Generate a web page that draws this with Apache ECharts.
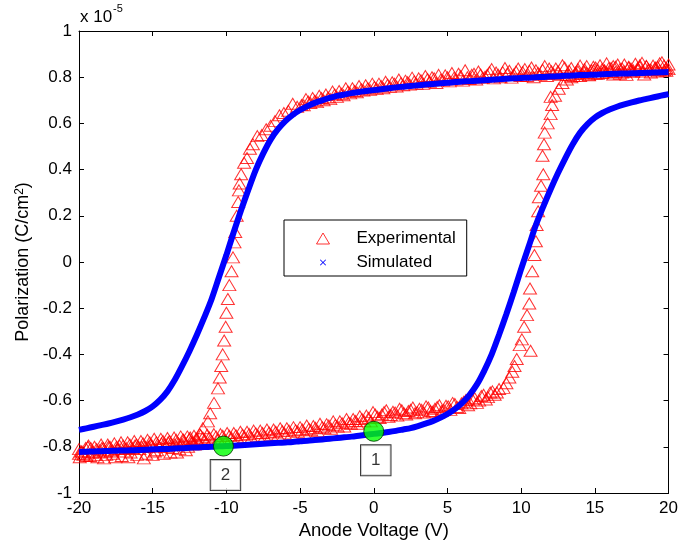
<!DOCTYPE html>
<html>
<head>
<meta charset="utf-8">
<script src="https://cdn.jsdelivr.net/npm/echarts@6/dist/echarts.min.js"></script>
<style>html,body{margin:0;padding:0;background:#fff;}#c{width:681px;height:548px;}</style>
</head>
<body>
<div id="c"></div>
<script>
// ---- data ----
const xTicks = [-20, -15, -10, -5, 0, 5, 10, 15, 20];
const yTicks = [-1, -0.8, -0.6, -0.4, -0.2, 0, 0.2, 0.4, 0.6, 0.8, 1];

// Simulated curve, upper branch (sweep from +20 V down to -20 V)
const simUpperX = [20,19.5,19,18.5,18,17.5,17,16.5,16,15.5,15,14.5,14,13.5,13,12.5,12,11.5,11,10.5,10,9.5,9,8.5,8,7.5,7,6.5,6,5.5,5,4.5,4,3.5,3,2.5,2,1.5,1,0.5,0,
  -0.5,-1,-1.5,-2,-2.5,-3,-3.5,-4,-4.5,-5,-5.5,-6,-6.5,-7,-7.5,-8,-8.5,-9,-9.5,-10,-10.5,-11,-11.5,-12,-12.5,-13,-13.5,-14,-14.5,-15,-15.5,-16,-16.5,-17,-17.5,-18,-18.5,-19,-19.5,-20];
const simUpperY = [0.822,0.821,0.820,0.819,0.818,0.817,0.816,0.815,0.814,0.813,0.811,0.810,0.809,0.807,0.806,0.804,0.803,0.801,0.800,0.798,0.797,0.795,0.793,0.791,0.789,0.787,0.785,0.783,0.781,0.779,0.776,0.774,0.771,0.768,0.765,0.762,0.759,0.756,0.752,0.748,0.744,
  0.740,0.736,0.731,0.725,0.719,0.710,0.700,0.689,0.675,0.658,0.637,0.610,0.575,0.530,0.470,0.400,0.315,0.225,0.130,0.030,-0.065,-0.160,-0.240,-0.315,-0.385,-0.450,-0.510,-0.560,-0.597,-0.625,-0.645,-0.660,-0.672,-0.682,-0.691,-0.699,-0.706,-0.713,-0.720,-0.727];
// Simulated curve, lower branch (sweep from -20 V up to +20 V)
const simLowerX = [-20,-19.5,-19,-18.5,-18,-17.5,-17,-16.5,-16,-15.5,-15,-14.5,-14,-13.5,-13,-12.5,-12,-11.5,-11,-10.5,-10,-9.5,-9,-8.5,-8,-7.5,-7,-6.5,-6,-5.5,-5,-4.5,-4,-3.5,-3,-2.5,-2,-1.5,-1,-0.5,0,
  0.5,1,1.5,2,2.5,3,3.5,4,4.5,5,5.5,6,6.5,7,7.5,8,8.5,9,9.5,10,10.5,11,11.5,12,12.5,13,13.5,14,14.5,15,15.5,16,16.5,17,17.5,18,18.5,19,19.5,20];
const simLowerY = [-0.822,-0.821,-0.820,-0.819,-0.818,-0.817,-0.816,-0.815,-0.814,-0.813,-0.811,-0.810,-0.809,-0.807,-0.806,-0.804,-0.803,-0.801,-0.800,-0.798,-0.797,-0.795,-0.793,-0.791,-0.789,-0.787,-0.785,-0.783,-0.781,-0.779,-0.776,-0.774,-0.771,-0.768,-0.765,-0.762,-0.759,-0.756,-0.752,-0.748,-0.744,
  -0.740,-0.736,-0.731,-0.725,-0.719,-0.710,-0.700,-0.689,-0.675,-0.658,-0.637,-0.610,-0.575,-0.530,-0.470,-0.400,-0.315,-0.225,-0.130,-0.030,0.065,0.160,0.240,0.315,0.385,0.450,0.510,0.560,0.597,0.625,0.645,0.660,0.672,0.682,0.691,0.699,0.706,0.713,0.720,0.727];

// Experimental points, upper branch [V, P]
const expUpper = [
[20.0,0.855],[19.7,0.83],[19.4,0.86],[19.1,0.838],[18.8,0.82],[18.5,0.848],[18.2,0.862],[17.9,0.832],[17.6,0.822],[17.3,0.842],
[17.0,0.855],[16.7,0.815],[16.4,0.845],[16.1,0.825],[15.8,0.86],[15.5,0.818],[15.2,0.832],[14.9,0.845],[14.6,0.808],[14.3,0.835],
[14.0,0.85],[13.7,0.82],[13.4,0.84],[13.1,0.81],[12.8,0.852],[12.5,0.826],[12.2,0.814],[11.9,0.838],[11.6,0.848],[11.3,0.81],
[11.0,0.83],[10.7,0.842],[10.4,0.805],[10.1,0.822],[9.8,0.838],[9.5,0.812],[9.2,0.828],[8.9,0.84],[8.6,0.8],[8.3,0.82],
[8.0,0.835],[7.7,0.81],[7.4,0.797],[7.1,0.825],[6.8,0.815],[6.5,0.792],[6.2,0.83],[5.9,0.805],[5.6,0.79],[5.3,0.818],
[5.0,0.8],[4.7,0.785],[4.4,0.81],[4.1,0.795],[3.8,0.78],[3.5,0.805],[3.2,0.787],[2.9,0.772],[2.6,0.798],[2.3,0.778],
[2.0,0.765],[1.7,0.79],[1.4,0.772],[1.1,0.758],[0.8,0.78],[0.5,0.762],[0.2,0.75],[-0.1,0.772],[-0.4,0.752],[-0.7,0.742],
[-1.0,0.762],[-1.3,0.74],[-1.6,0.73],[-1.9,0.752],[-2.2,0.728],[-2.5,0.715],[-2.8,0.738],[-3.1,0.712],[-3.4,0.7],[-3.7,0.72],
[-4.0,0.698],[-4.3,0.688],[-4.6,0.705],[-4.9,0.68],[-5.2,0.672],[-5.5,0.685],[-5.8,0.655],[-6.1,0.645],[-6.4,0.635],[-6.7,0.61],
[-7.0,0.59],[-7.3,0.575],[-7.6,0.55],[-7.9,0.545],[-8.2,0.51],[-8.4,0.49],[-8.6,0.45],[-8.8,0.43],[-9.0,0.38],[-9.1,0.34],
[-9.15,0.31],[-9.2,0.26],[-9.3,0.2],[-9.4,0.13],[-9.45,0.085],[-9.55,0.02],[-9.65,-0.04],[-9.8,-0.1],[-9.9,-0.16],[-10.0,-0.22],
[-10.05,-0.28],[-10.15,-0.34],[-10.25,-0.4],[-10.35,-0.45],[-10.45,-0.5],[-10.57,-0.547],[-10.84,-0.61],[-11.1,-0.655],[-11.25,-0.69],[-11.6,-0.72],
[-11.8,-0.745],[-12.0,-0.765],[-12.3,-0.78],[-12.6,-0.8],[-12.9,-0.77],[-13.2,-0.81],[-13.5,-0.79],[-13.8,-0.825],[-14.1,-0.8],[-14.4,-0.785],
[-14.7,-0.815],[-15.0,-0.835],[-15.3,-0.8],[-15.6,-0.85],[-15.9,-0.81],[-16.2,-0.795],[-16.5,-0.825],[-16.8,-0.805],[-17.1,-0.84],[-17.4,-0.81],
[-17.7,-0.83],[-18.0,-0.8],[-18.3,-0.85],[-18.6,-0.815],[-18.9,-0.835],[-19.2,-0.805],[-19.5,-0.84],[-19.8,-0.82],[-20.0,-0.83]
];
// Additional experimental readings in the dense flat parts of the upper branch
const expUpperB = [
[19.85,0.84],[19.55,0.865],[19.25,0.825],[18.95,0.85],[18.65,0.835],[18.35,0.812],[18.05,0.845],[17.75,0.858],[17.45,0.828],[17.15,0.81],
[16.85,0.838],[16.55,0.855],[16.25,0.812],[15.95,0.84],[15.65,0.828],[15.35,0.852],[15.05,0.815],[14.75,0.83],[14.45,0.848],[14.15,0.815],
[13.85,0.835],[13.55,0.805],[13.25,0.828],[12.95,0.842],[12.65,0.81],[12.35,0.838],[12.05,0.826],[11.75,0.805],[11.45,0.832],[11.15,0.818],
[10.85,0.8],[10.55,0.828],[10.25,0.835],[9.95,0.805],[9.65,0.825],[9.35,0.798],[9.05,0.815],[8.75,0.822],[8.45,0.81],[8.15,0.795],
[7.85,0.822],[7.55,0.802],[7.25,0.812],[6.95,0.79],[6.65,0.81],[6.35,0.8],[6.05,0.785],[5.75,0.815],[5.45,0.798],[5.15,0.782],
[4.85,0.808],[4.55,0.79],[4.25,0.775],[3.95,0.8],[3.65,0.792],[3.35,0.772],[3.05,0.795],[2.75,0.782],[2.45,0.768],[2.15,0.785],
[1.85,0.775],[1.55,0.76],[1.25,0.778],[0.95,0.768],[0.65,0.752],[0.35,0.772],[0.05,0.758],[-0.25,0.745],[-0.55,0.765],[-0.85,0.748],
[-1.15,0.735],[-1.45,0.752],[-1.75,0.738],[-2.05,0.722],[-2.35,0.74],[-2.65,0.725],[-2.95,0.705],[-3.25,0.725],[-3.55,0.71],[-3.85,0.692],
[-4.15,0.71],[-4.45,0.695],[-4.75,0.678],
[-12.15,-0.79],[-12.45,-0.76],[-12.75,-0.815],[-13.05,-0.79],[-13.35,-0.825],[-13.65,-0.805],[-13.95,-0.78],[-14.25,-0.83],[-14.55,-0.8],[-14.85,-0.82],
[-15.15,-0.79],[-15.45,-0.83],[-15.75,-0.8],[-16.05,-0.835],[-16.35,-0.81],[-16.65,-0.845],[-16.95,-0.82],[-17.25,-0.795],[-17.55,-0.845],[-17.85,-0.82],
[-18.15,-0.835],[-18.45,-0.805],[-18.75,-0.845],[-19.05,-0.82],[-19.35,-0.795],[-19.65,-0.83],[-19.95,-0.845]
];
// Experimental points, lower branch [V, P]
const expLower = [
[-20.0,-0.81],[-19.7,-0.835],[-19.4,-0.8],[-19.1,-0.825],[-18.8,-0.81],[-18.5,-0.79],[-18.2,-0.82],[-17.9,-0.8],[-17.6,-0.785],[-17.3,-0.81],
[-17.0,-0.795],[-16.7,-0.78],[-16.4,-0.805],[-16.1,-0.79],[-15.8,-0.775],[-15.5,-0.8],[-15.2,-0.78],[-14.9,-0.765],[-14.6,-0.795],[-14.3,-0.775],
[-14.0,-0.762],[-13.7,-0.79],[-13.4,-0.77],[-13.1,-0.755],[-12.8,-0.785],[-12.5,-0.765],[-12.2,-0.752],[-11.9,-0.78],[-11.6,-0.76],[-11.3,-0.748],
[-11.0,-0.775],[-10.7,-0.755],[-10.4,-0.745],[-10.1,-0.77],[-9.8,-0.752],[-9.5,-0.74],[-9.2,-0.765],[-8.9,-0.748],[-8.6,-0.735],[-8.3,-0.76],
[-8.0,-0.742],[-7.7,-0.73],[-7.4,-0.755],[-7.1,-0.738],[-6.8,-0.725],[-6.5,-0.75],[-6.2,-0.732],[-5.9,-0.72],[-5.6,-0.745],[-5.3,-0.728],
[-5.0,-0.715],[-4.7,-0.74],[-4.4,-0.722],[-4.1,-0.71],[-3.8,-0.732],[-3.5,-0.715],[-3.2,-0.702],[-2.9,-0.722],[-2.6,-0.705],[-2.3,-0.69],
[-2.0,-0.712],[-1.7,-0.695],[-1.4,-0.68],[-1.1,-0.7],[-0.8,-0.68],[-0.5,-0.665],[-0.2,-0.69],[0.1,-0.66],[0.4,-0.675],[0.7,-0.65],
[1.0,-0.67],[1.3,-0.648],[1.6,-0.665],[1.9,-0.642],[2.2,-0.66],[2.5,-0.64],[2.8,-0.655],[3.1,-0.635],[3.4,-0.652],[3.7,-0.63],
[4.0,-0.648],[4.3,-0.628],[4.6,-0.645],[4.9,-0.622],[5.2,-0.64],[5.5,-0.615],[5.8,-0.632],[6.1,-0.605],[6.4,-0.62],[6.7,-0.595],
[7.0,-0.61],[7.3,-0.58],[7.6,-0.595],[7.9,-0.565],[8.2,-0.575],[8.5,-0.55],[8.8,-0.545],[9.0,-0.525],[9.2,-0.5],[9.4,-0.475],
[9.55,-0.45],[9.7,-0.42],[9.9,-0.36],[10.05,-0.335],[10.64,-0.384],[10.2,-0.28],[10.4,-0.23],[10.55,-0.18],[10.6,-0.115],[10.75,-0.04],
[10.9,0.03],[11.0,0.09],[11.05,0.16],[11.15,0.22],[11.2,0.28],[11.35,0.33],[11.5,0.38],[11.45,0.46],[11.55,0.51],[11.6,0.56],
[11.8,0.6],[12.0,0.64],[12.1,0.68],[12.0,0.715],[12.3,0.72],[12.55,0.75],[12.8,0.775],[13.1,0.79],[13.4,0.8],[13.7,0.815],
[14.0,0.805],[14.3,0.825],[14.6,0.81],[14.9,0.83],[15.2,0.815],[15.5,0.835],[15.8,0.82],[16.1,0.84],[16.4,0.822],[16.7,0.835],
[17.0,0.825],[17.3,0.845],[17.6,0.83],[17.9,0.84],[18.2,0.825],[18.5,0.848],[18.8,0.832],[19.1,0.842],[19.4,0.83],[19.7,0.85],[20.0,0.835]
];
// Additional experimental readings in the dense flat parts of the lower branch
const expLowerB = [
[-19.85,-0.82],[-19.55,-0.805],[-19.25,-0.84],[-18.95,-0.8],[-18.65,-0.825],[-18.35,-0.805],[-18.05,-0.79],[-17.75,-0.815],[-17.45,-0.8],[-17.15,-0.78],
[-16.85,-0.81],[-16.55,-0.79],[-16.25,-0.775],[-15.95,-0.8],[-15.65,-0.785],[-15.35,-0.77],[-15.05,-0.795],[-14.75,-0.78],[-14.45,-0.765],[-14.15,-0.79],
[-13.85,-0.775],[-13.55,-0.76],[-13.25,-0.785],[-12.95,-0.768],[-12.65,-0.755],[-12.35,-0.78],[-12.05,-0.765],[-11.75,-0.75],[-11.45,-0.772],[-11.15,-0.76],
[-10.85,-0.745],[-10.55,-0.768],[-10.25,-0.752],[-9.95,-0.74],[-9.65,-0.762],[-9.35,-0.75],[-9.05,-0.735],[-8.75,-0.758],[-8.45,-0.745],[-8.15,-0.73],
[-7.85,-0.752],[-7.55,-0.74],[-7.25,-0.725],[-6.95,-0.748],[-6.65,-0.735],[-6.35,-0.72],[-6.05,-0.742],[-5.75,-0.73],[-5.45,-0.715],[-5.15,-0.735],
[-4.85,-0.725],[-4.55,-0.708],[-4.25,-0.728],[-3.95,-0.718],[-3.65,-0.7],[-3.35,-0.72],[-3.05,-0.708],[-2.75,-0.69],[-2.45,-0.712],[-2.15,-0.698],
[-1.85,-0.68],[-1.55,-0.7],[-1.25,-0.688],[-0.95,-0.668],[-0.65,-0.69],[-0.35,-0.675],[-0.05,-0.65],[0.25,-0.67],[0.55,-0.66],[0.85,-0.642],
[1.15,-0.662],[1.45,-0.652],[1.75,-0.635],[2.05,-0.655],[2.35,-0.645],[2.65,-0.63],[2.95,-0.65],[3.25,-0.64],[3.55,-0.625],[3.85,-0.645],
[4.15,-0.635],[4.45,-0.62],[4.75,-0.64],[5.05,-0.625],[5.35,-0.61],[5.65,-0.628],[5.95,-0.612],[6.25,-0.598],[6.55,-0.612],[6.85,-0.59],
[7.15,-0.6],[7.45,-0.575],[7.75,-0.585],[8.05,-0.56],[8.35,-0.565],
[13.25,0.81],[13.85,0.825],[14.45,0.818],[15.05,0.842],[15.65,0.83],[16.25,0.848],[16.85,0.82],[17.45,0.838],[18.05,0.852],[18.65,0.83],[19.25,0.845],[19.85,0.828]
];

// Marked states
const markX = [0, -10.2];
const markY = [-0.733, -0.797];
const markText = ['1', '2'];

// ---- chart ----
const FONT = 'Liberation Sans, Arial, Helvetica, sans-serif';
const chart = echarts.init(document.getElementById('c'), null, {renderer: 'canvas'});
const zip = (xs, ys) => xs.map((x, i) => [x, ys[i]]);
const yFmt = v => String(Number(v.toFixed(1)));

const baseX = {
  type: 'value', min: xTicks[0], max: xTicks[xTicks.length - 1], interval: 5,
  axisLine: {show: true, onZero: false, lineStyle: {color: '#000', width: 1}},
  axisTick: {show: true, inside: true, length: 5, lineStyle: {color: '#000'}},
  splitLine: {show: false}
};
const baseY = {
  type: 'value', min: yTicks[0], max: yTicks[yTicks.length - 1], interval: 0.2,
  axisLine: {show: true, onZero: false, lineStyle: {color: '#000', width: 1}},
  axisTick: {show: true, inside: true, length: 5, lineStyle: {color: '#000'}},
  splitLine: {show: false}
};

const option = {
  animation: false,
  backgroundColor: '#fff',
  textStyle: {fontFamily: FONT},
  grid: {left: 79, right: 11, top: 31, bottom: 55, show: false},
  xAxis: [
    Object.assign({}, baseX, {
      position: 'bottom',
      name: 'Anode Voltage (V)', nameLocation: 'middle', nameGap: 20,
      nameTextStyle: {fontSize: 18.5, color: '#000', fontFamily: FONT},
      axisLabel: {show: true, margin: 7, fontSize: 17, color: '#000', fontFamily: FONT}
    }),
    Object.assign({}, baseX, {position: 'top', axisLabel: {show: false}})
  ],
  yAxis: [
    Object.assign({}, baseY, {
      position: 'left',
      name: 'Polarization (C/cm{sup|2})', nameLocation: 'middle', nameGap: 45, nameRotate: 90,
      nameTextStyle: {fontSize: 18, color: '#000', fontFamily: FONT,
        rich: {sup: {fontSize: 12, verticalAlign: 'top', color: '#000', fontFamily: FONT}}},
      axisLabel: {show: true, margin: 7, fontSize: 17, color: '#000', fontFamily: FONT, formatter: yFmt}
    }),
    Object.assign({}, baseY, {position: 'right', axisLabel: {show: false}})
  ],
  legend: {
    orient: 'vertical', left: 284, top: 220,
    padding: [10, 11, 5, 32], itemGap: 7, itemWidth: 13, itemHeight: 11,
    backgroundColor: '#fff', borderColor: '#000', borderWidth: 1, borderRadius: 0,
    textStyle: {fontSize: 17, color: '#000', fontFamily: FONT, padding: [0, 0, 0, 22]},
    data: [
      {name: 'Experimental', icon: 'triangle',
        itemStyle: {color: 'rgba(0,0,0,0)', borderColor: '#ff0000', borderWidth: 1}},
      {name: 'Simulated', icon: 'path://M-4,-4M14,14M0,1L1,0L5,4L9,0L10,1L6,5L10,9L9,10L5,6L1,10L0,9L4,5Z',
        itemStyle: {color: '#0000ff', borderWidth: 0}}
    ]
  },
  graphic: [
    {type: 'text', left: 80, top: 9, style: {text: 'x 10', font: '17px ' + FONT, fill: '#000'}},
    {type: 'text', left: 113, top: 3, style: {text: '-5', font: '11px ' + FONT, fill: '#000'}}
  ],
  series: [
    {
      name: 'Experimental', type: 'scatter', symbol: 'triangle', symbolSize: [13, 11],
      data: expUpper.concat(expUpperB, expLower, expLowerB), z: 2,
      itemStyle: {color: 'rgba(0,0,0,0)', borderColor: '#ff0000', borderWidth: 1}
    },
    {
      name: 'Simulated', type: 'line', data: zip(simUpperX, simUpperY), smooth: 0.3,
      showSymbol: false, z: 3, lineStyle: {color: '#0000ff', width: 6}, itemStyle: {color: '#0000ff'}
    },
    {
      name: 'Simulated', type: 'line', data: zip(simLowerX, simLowerY), smooth: 0.3,
      showSymbol: false, z: 3, lineStyle: {color: '#0000ff', width: 6}, itemStyle: {color: '#0000ff'}
    },
    {
      name: 'states', type: 'scatter', symbol: 'circle', symbolSize: 20, z: 5,
      data: zip(markX, markY).map((p, i) => ({value: p, label: {formatter: markText[i]}})),
      itemStyle: {color: '#00ff00', borderColor: '#003300', borderWidth: 1},
      label: {show: true, position: 'inside', offset: [2, 29], fontSize: 17, color: '#000', fontFamily: FONT,
        backgroundColor: '#fff', borderColor: '#000', borderWidth: 1, padding: [6, 10, 6, 10], lineHeight: 18}
    }
  ]
};
chart.setOption(option);
</script>
</body>
</html>
